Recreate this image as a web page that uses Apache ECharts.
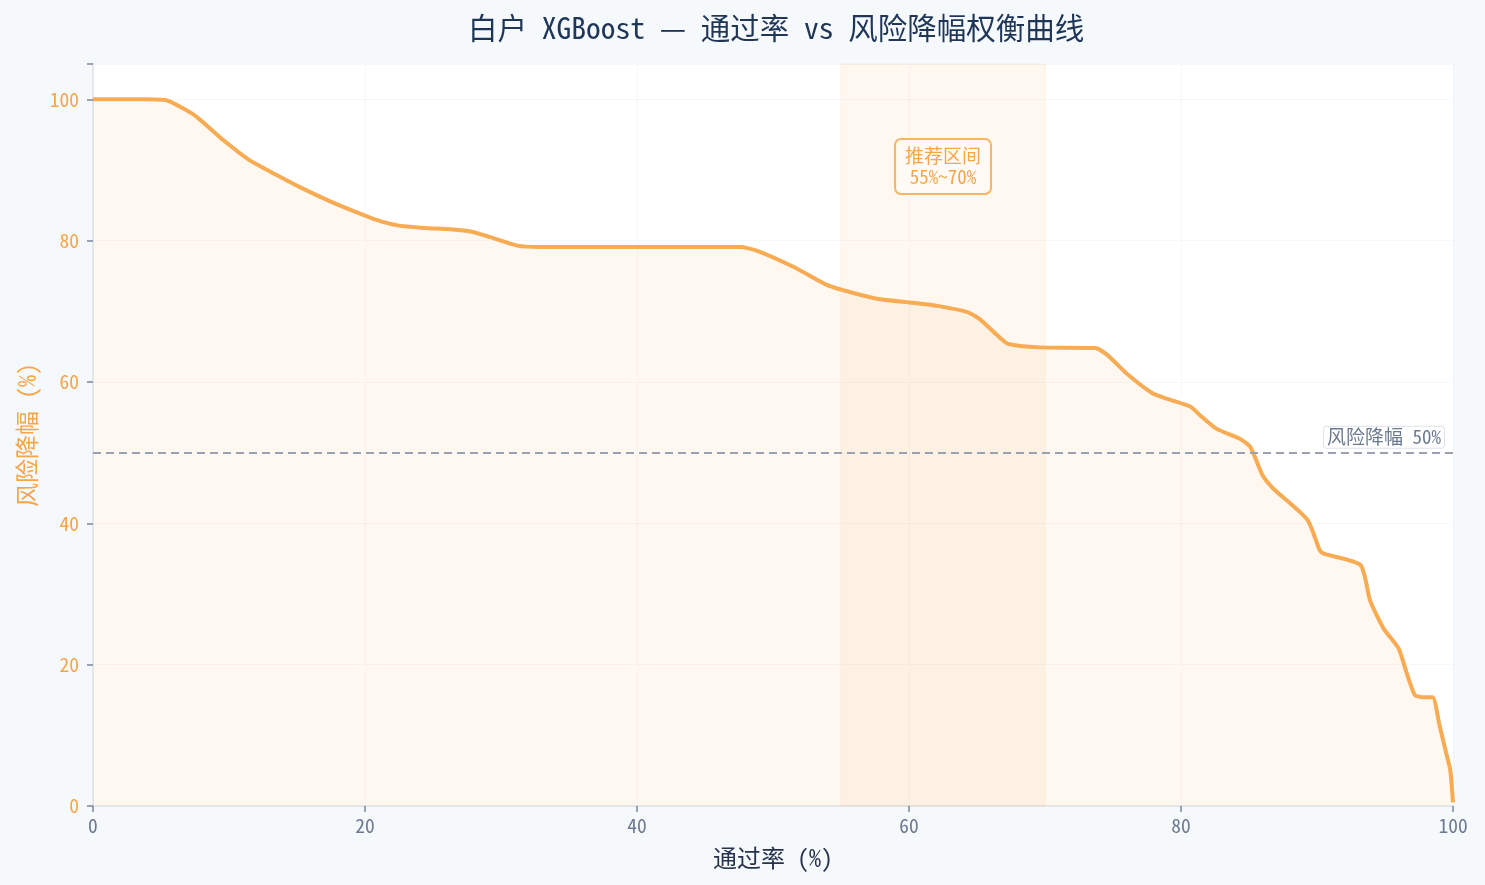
<!DOCTYPE html>
<html>
<head>
<meta charset="utf-8">
<title>白户 XGBoost 通过率 vs 风险降幅</title>
<script src="https://cdn.jsdelivr.net/npm/echarts@6/dist/echarts.min.js"></script>
<style>
  html, body { margin: 0; padding: 0; background: #f5f9fc; }
  #chart { width: 1485px; height: 885px; }
</style>
</head>
<body>
<div id="chart"></div>
<script>
// pass rate (%) on x, risk reduction (%) on y
const passRate = [
  0, 3.7, 5.5, 7.5, 9.6, 11.5, 13.5, 15.4, 17.4, 19.4,
  20.9, 22.3, 24.3, 26.3, 28.0, 29.2, 31.2, 32.9, 40, 47.6,
  48.8, 51.5, 54.0, 55.9, 57.9, 60.3, 62.3, 64.3, 65.2, 66.5,
  67.3, 69.6, 73.7, 74.6, 76.0, 77.9, 79.0, 80.7, 81.4, 82.6,
  84.3, 85.1, 86.0, 86.8, 89.3, 90.2, 90.5, 93.2, 93.9, 94.9,
  96.0, 96.6, 97.2, 97.8, 98.5, 99.0, 99.5, 99.8, 100
]
const riskReduction = [
  100, 100, 99.8, 97.7, 94.2, 91.4, 89.3, 87.4, 85.6, 84.0,
  82.9, 82.2, 81.8, 81.6, 81.2, 80.5, 79.3, 79.1, 79.1, 79.1,
  78.6, 76.3, 73.7, 72.6, 71.7, 71.2, 70.7, 69.9, 68.9, 66.6,
  65.4, 64.9, 64.8, 63.8, 61.2, 58.4, 57.6, 56.5, 55.3, 53.4,
  52.0, 50.8, 46.8, 44.9, 40.5, 36.2, 35.7, 34.1, 29.1, 25.1,
  22.3, 18.8, 15.7, 15.4, 15.4, 11.5, 7.5, 5.1, 0.5
]
const xTicks = [0, 20, 40, 60, 80, 100]
const yTicks = [0, 20, 40, 60, 80, 100]
const recommendBand = [55, 70]
const riskTarget = 50

const FONT = "'Noto Sans Mono CJK SC', 'DejaVu Sans Mono', 'Noto Sans CJK SC', monospace"
const ORANGE = '#f7ab52'

const chart = echarts.init(document.getElementById('chart'))

const option = {
  backgroundColor: '#f5f9fc',
  textStyle: { fontFamily: FONT },
  animation: false,
  title: {
    text: '白户 XGBoost — 通过率 vs 风险降幅权衡曲线',
    left: 463,
    top: 8,
    textStyle: { fontFamily: FONT, fontSize: 29.5, fontWeight: 'normal', color: '#1f3657' }
  },
  grid: {
    left: 93, right: 32, top: 64, bottom: 79,
    show: true, backgroundColor: '#ffffff', borderWidth: 0
  },
  xAxis: {
    type: 'value',
    min: 0, max: 100, interval: 20,
    name: '通过率 (%)',
    nameLocation: 'middle',
    nameGap: 40,
    nameTextStyle: { fontFamily: FONT, fontSize: 24, color: '#27334d' },
    axisLine: { show: true, lineStyle: { color: '#dde3ea', width: 1.5 } },
    axisTick: { show: true, length: 6, lineStyle: { color: '#7a8599', width: 1.5 } },
    axisLabel: {
      fontFamily: FONT, fontSize: 19.5, color: '#6e7a91', margin: 10,
      formatter: v => xTicks.includes(v) ? String(v) : ''
    },
    splitLine: { show: true, lineStyle: { color: '#eef1f4', type: 'dotted', width: 1 } }
  },
  yAxis: {
    type: 'value',
    min: 0, max: 105, interval: 20,
    name: '风险降幅 (%)',
    nameLocation: 'middle',
    nameGap: 52,
    nameTextStyle: { fontFamily: FONT, fontSize: 24, color: '#f5a54a' },
    axisLine: { show: true, lineStyle: { color: '#dde3ea', width: 1.5 } },
    axisTick: { show: true, length: 6, lineStyle: { color: '#7a8599', width: 1.5 } },
    axisLabel: {
      fontFamily: FONT, fontSize: 19.5, color: '#f5a54a', margin: 14,
      formatter: v => yTicks.includes(v) ? String(v) : ''
    },
    splitLine: { show: true, lineStyle: { color: '#eef1f4', type: 'dotted', width: 1 } }
  },
  series: [{
    type: 'line',
    data: passRate.map((x, i) => [x, riskReduction[i]]),
    showSymbol: false,
    smooth: 0.2,
    lineStyle: { color: ORANGE, width: 4 },
    itemStyle: { color: ORANGE },
    areaStyle: { color: 'rgba(245, 175, 85, 0.13)' },
    z: 3,
    markArea: {
      silent: true,
      itemStyle: {
        color: 'rgba(247, 171, 82, 0.08)',
        borderColor: 'rgba(247, 171, 82, 0.14)',
        borderWidth: 1
      },
      data: [[{ xAxis: recommendBand[0] }, { xAxis: recommendBand[1] }]]
    },
    markLine: {
      silent: true,
      symbol: 'none',
      lineStyle: { color: '#9aa2b1', type: [8, 5], width: 2 },
      label: {
        show: true,
        position: 'insideEndTop',
        distance: [9, 5],
        formatter: '风险降幅 50%',
        fontFamily: FONT, fontSize: 19, color: '#6b7a90',
        backgroundColor: '#ffffff',
        borderColor: '#dde3ea', borderWidth: 1, borderRadius: 3,
        padding: [1, 3]
      },
      data: [{ yAxis: riskTarget }]
    },
    markPoint: {
      silent: true,
      symbol: 'rect',
      symbolSize: 0,
      label: {
        show: true,
        position: 'inside',
        formatter: '推荐区间\n55%~70%',
        fontFamily: FONT, fontSize: 19, lineHeight: 21, color: '#f5a54a',
        align: 'center',
        backgroundColor: 'rgba(255, 250, 244, 0.95)',
        borderColor: '#f7b56a', borderWidth: 2, borderRadius: 5,
        padding: [6, 9, 5, 9]
      },
      data: [{ coord: [(recommendBand[0] + recommendBand[1]) / 2, 90.5] }]
    }
  }]
}

chart.setOption(option)
window.addEventListener('resize', () => chart.resize())
</script>
</body>
</html>
